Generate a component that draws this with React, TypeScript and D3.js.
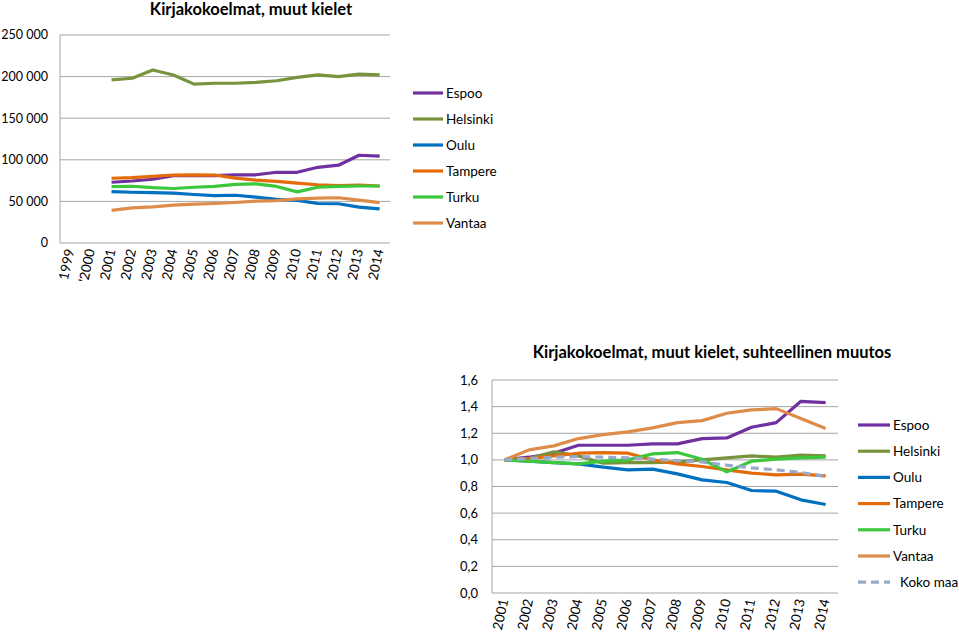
import React from "react";
import * as d3 from "d3";

const topCategories = ["1999", "'2000", "2001", "2002", "2003", "2004", "2005", "2006", "2007", "2008", "2009", "2010", "2011", "2012", "2013", "2014"];
const years = ["2001", "2002", "2003", "2004", "2005", "2006", "2007", "2008", "2009", "2010", "2011", "2012", "2013", "2014"];
const topTicks = [0, 50000, 100000, 150000, 200000, 250000];
const relTicks = [0, 0.2, 0.4, 0.6, 0.8, 1.0, 1.2, 1.4, 1.6];

const espoo = [73000, 74500, 76600, 81000, 81000, 81000, 82000, 82000, 85000, 85000, 91000, 93500, 105500, 104500];
const helsinki = [196000, 198000, 208000, 202000, 191000, 192000, 192000, 193000, 195000, 199000, 202000, 200000, 203000, 202000];
const oulu = [61700, 61000, 60500, 60000, 58300, 57000, 57400, 55200, 52400, 51200, 47500, 47200, 43200, 41000];
const tampere = [77800, 78500, 80000, 81700, 82000, 81700, 78000, 75500, 74000, 72000, 70000, 69000, 69500, 68500];
const turku = [67700, 68200, 66500, 65500, 67000, 68000, 70500, 71000, 68000, 61500, 67000, 68000, 68500, 68500];
const vantaa = [39300, 42200, 43400, 45600, 46800, 47500, 48700, 50300, 50900, 53000, 54000, 54400, 51500, 48500];

const espooRel = [1.0, 1.02, 1.05, 1.11, 1.11, 1.11, 1.12, 1.12, 1.16, 1.165, 1.245, 1.28, 1.44, 1.43];
const helsinkiRel = [1.0, 1.01, 1.06, 1.03, 0.975, 0.98, 0.98, 0.985, 1.0, 1.015, 1.03, 1.02, 1.036, 1.03];
const ouluRel = [1.0, 0.99, 0.98, 0.97, 0.945, 0.925, 0.93, 0.895, 0.85, 0.83, 0.77, 0.765, 0.70, 0.665];
const tampereRel = [1.0, 1.01, 1.03, 1.05, 1.055, 1.05, 1.0, 0.97, 0.95, 0.925, 0.9, 0.888, 0.893, 0.88];
const turkuRel = [1.0, 0.99, 0.98, 0.97, 0.99, 1.0, 1.045, 1.055, 1.005, 0.91, 0.99, 1.005, 1.015, 1.02];
const vantaaRel = [1.0, 1.075, 1.105, 1.16, 1.19, 1.21, 1.24, 1.28, 1.295, 1.35, 1.375, 1.385, 1.31, 1.235];
const kokoMaaRel = [1.0, 1.01, 1.02, 1.025, 1.02, 1.015, 1.005, 0.995, 0.985, 0.96, 0.94, 0.925, 0.905, 0.875];

const seriesNames = ["Espoo", "Helsinki", "Oulu", "Tampere", "Turku", "Vantaa"];
const colors = ["#7030A0", "#77933C", "#0070C0", "#E36C09", "#3CC83C", "#DE8C4A"];
const kokoColor = "#98AACB";

const FONT = "Lato, 'Open Sans', sans-serif";

function LineChart(props: {
  left: number; right: number; top: number; bottom: number;
  cats: string[]; yMax: number; ticks: number[]; fmt: (v: number) => string;
  series: { name: string; values: number[]; color: string; dash?: string }[];
  title: string; titleX: number; titleY: number; labelTop: number; yLabelX: number; yFont: number;
}) {
  const x = d3.scaleBand().domain(props.cats).range([props.left, props.right]);
  const y = d3.scaleLinear().domain([0, props.yMax]).range([props.bottom, props.top]);
  const line = d3.line<[string, number]>()
    .x((d) => (x(d[0]) as number) + x.bandwidth() / 2)
    .y((d) => y(d[1]));
  return (
    <g>
      <text x={props.titleX} y={props.titleY} textAnchor="middle" fontWeight="bold" fontSize={16.5} fontFamily={FONT} fill="#000">{props.title}</text>
      {props.ticks.map((t) => (
        <g key={t}>
          {t > 0 && <line x1={props.left} x2={props.right} y1={y(t)} y2={y(t)} stroke="#A6A6A6" strokeWidth={1} />}
          <text x={props.yLabelX} y={y(t)} dy="0.35em" textAnchor="end" fontSize={props.yFont} fontFamily={FONT} fill="#000">{props.fmt(t)}</text>
        </g>
      ))}
      <line x1={props.left} x2={props.left} y1={props.top} y2={props.bottom} stroke="#A6A6A6" />
      <line x1={props.left} x2={props.right} y1={props.bottom} y2={props.bottom} stroke="#A6A6A6" />
      {props.cats.map((c) => {
        const cx = (x(c) as number) + x.bandwidth() / 2 + 4;
        return (
          <text key={c} transform={`translate(${cx},${props.labelTop}) rotate(-78)`} textAnchor="end" fontSize={13.5} fontFamily={FONT} fill="#000">{c}</text>
        );
      })}
      {props.series.map((s) => (
        <path key={s.name} d={line(years.map((yr, i) => [yr, s.values[i]] as [string, number])) || ""}
          fill="none" stroke={s.color} strokeWidth={3.2} strokeDasharray={s.dash} strokeLinejoin="round" />
      ))}
    </g>
  );
}

function Legend(props: { x: number; y: number; step: number; len: number; items: { name: string; color: string; dash?: string }[] }) {
  return (
    <g>
      {props.items.map((it, i) => (
        <g key={it.name} transform={`translate(${props.x},${props.y + i * props.step})`}>
          <line x1={0} x2={props.len} y1={0} y2={0} stroke={it.color} strokeWidth={3.2} strokeDasharray={it.dash} />
          <text x={props.len + (it.dash ? 10 : 3)} y={0} dy="0.35em" fontSize={13.5} fontFamily={FONT} fill="#000">{it.name}</text>
        </g>
      ))}
    </g>
  );
}

export default function App() {
  const topVals = [espoo, helsinki, oulu, tampere, turku, vantaa];
  const relVals = [espooRel, helsinkiRel, ouluRel, tampereRel, turkuRel, vantaaRel];
  const topSeries = seriesNames.map((n, i) => ({ name: n, values: topVals[i], color: colors[i] }));
  const relSeries = [
    ...seriesNames.map((n, i) => ({ name: n, values: relVals[i], color: colors[i] })),
    { name: "Koko maa", values: kokoMaaRel, color: kokoColor, dash: "8,5" },
  ];
  const fmtTop = (v: number) => d3.format(",")(v).replace(/,/g, " ");
  const fmtRel = (v: number) => v.toFixed(1).replace(".", ",");
  return (
    <svg width={959} height={633} style={{ position: "absolute", left: 0, top: 0, background: "#fff" }}>
      <rect x={0} y={0} width={959} height={633} fill="#fff" />
      <LineChart left={60} right={390} top={35} bottom={243} cats={topCategories} yMax={250000} ticks={topTicks}
        fmt={fmtTop} series={topSeries} title="Kirjakokoelmat, muut kielet" titleX={251} titleY={15}
        labelTop={250} yLabelX={48} yFont={12.5} />
      <Legend x={413} y={93} step={26} len={30} items={topSeries} />
      <LineChart left={492} right={838} top={380} bottom={593} cats={years} yMax={1.6} ticks={relTicks}
        fmt={fmtRel} series={relSeries} title="Kirjakokoelmat, muut kielet, suhteellinen muutos" titleX={712} titleY={358}
        labelTop={600} yLabelX={478} yFont={13} />
      <Legend x={858} y={425} step={26.2} len={32} items={relSeries} />
    </svg>
  );
}
